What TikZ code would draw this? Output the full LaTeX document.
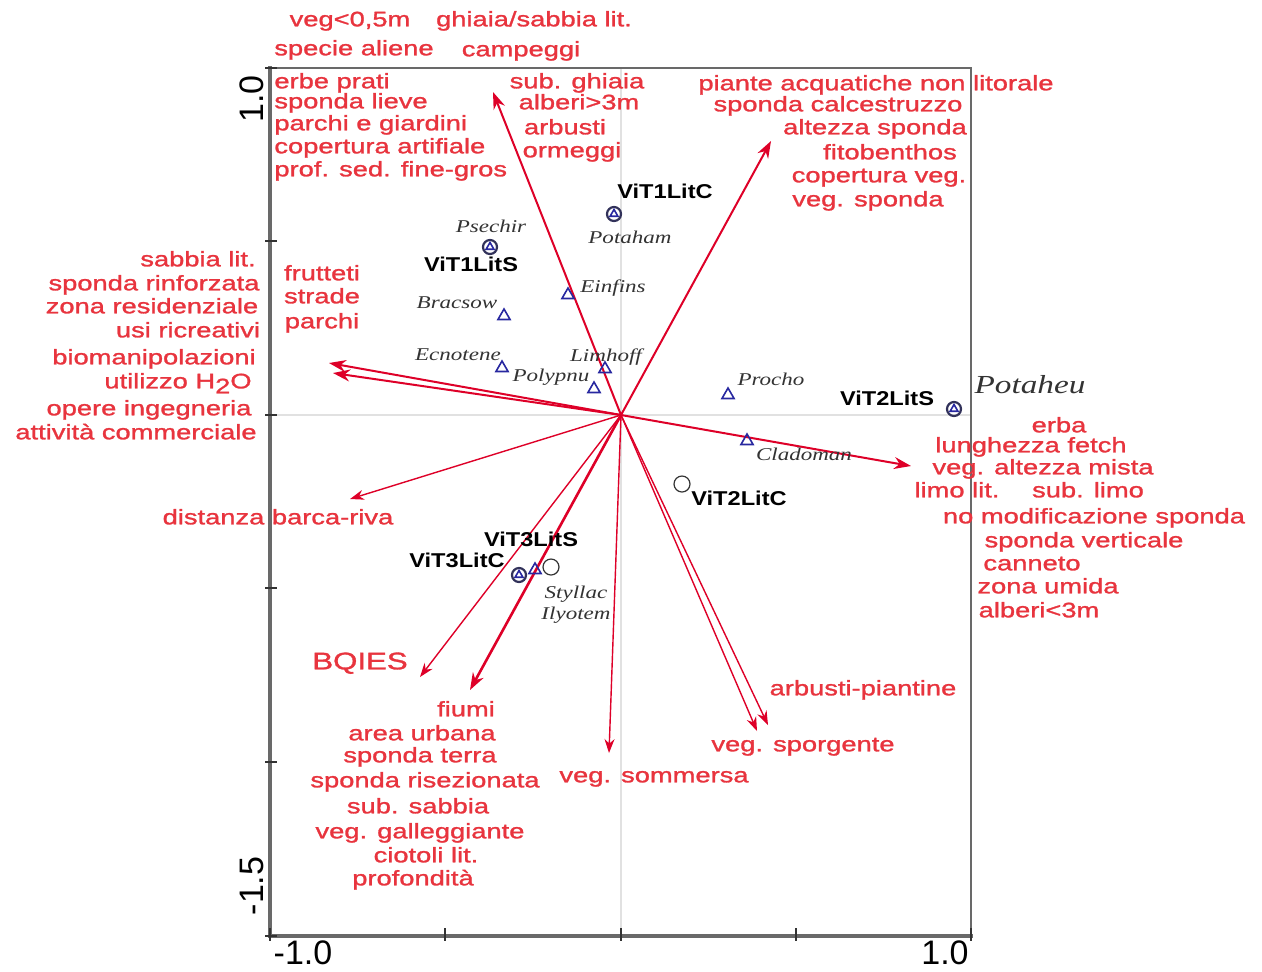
\documentclass[tikz,border=0pt]{standalone}
\usepackage{fontspec}
\usetikzlibrary{arrows.meta,shapes.geometric}
\newfontfamily\redfont[FakeStretch=1.30,FakeBold=1.3]{Liberation Sans}
\newfontfamily\sitefont[FakeStretch=1.18]{Liberation Sans}
\newfontfamily\spfont[FakeStretch=1.28]{Liberation Serif}
\newfontfamily\axfont{Liberation Sans}
\definecolor{labred}{RGB}{232,52,62}
\definecolor{arrred}{RGB}{222,0,40}
\definecolor{triblue}{RGB}{40,40,160}
\definecolor{axgray}{RGB}{105,105,105}
\definecolor{gridgray}{RGB}{225,225,225}
\definecolor{sitering}{RGB}{50,50,90}
\tikzset{
  lab/.style={text=labred, font=\redfont\fontsize{10.5}{12}\selectfont, inner sep=0pt, anchor=mid},
  bigl/.style={text=labred, font=\redfont\fontsize{12}{14}\selectfont, inner sep=0pt, anchor=mid},
  sitel/.style={text=black, font=\sitefont\bfseries\fontsize{10}{12}\selectfont, inner sep=0pt, anchor=mid},
  spl/.style={text=black!80, font=\spfont\itshape\fontsize{9}{11}\selectfont, inner sep=0pt, anchor=mid},
  axl/.style={text=black, font=\axfont\fontsize{17}{19}\selectfont, inner sep=0pt},
  arr/.style={draw=arrred, line width=1pt, -{Stealth[length=8.5pt,width=6pt]}},
  arrthin/.style={draw=arrred, line width=0.7pt, -{Stealth[length=7pt,width=5pt]}},
  tri/.style={draw=triblue, line width=0.8pt, regular polygon, regular polygon sides=3, minimum size=7pt, inner sep=0pt},
  sitec/.style={draw=sitering, line width=1.1pt, circle, minimum size=7pt, inner sep=0pt},
  openc/.style={draw=black!80, line width=0.6pt, circle, minimum size=8pt, inner sep=0pt},
  tick/.style={draw=black!80, line width=0.6pt}
}
\begin{document}
\begin{tikzpicture}[x=0.5pt,y=-0.5pt]
\useasboundingbox (0,0) rectangle (1262,971);
\fill[white] (0,0) rectangle (1262,971);
% grid lines
\draw[gridgray, line width=1pt] (621,68) -- (621,936);
\draw[gridgray, line width=1pt] (270,415) -- (971,415);
% frame
\draw[axgray, line width=1pt] (270,68) -- (971,68) -- (971,936);
\draw[axgray, line width=1.6pt] (270,66) -- (270,936) -- (973,936);
% ticks
\foreach \yy in {68,241,415,588,762,936} \draw[tick] (265,\yy) -- (277,\yy);
\foreach \xx in {270,445,621,796,971} \draw[tick] (\xx,928) -- (\xx,941);
% axis labels
\node[axl, rotate=90] (ylab1) at (252,99) {1.0};
\node[axl, rotate=90] (ylab2) at (252,886) {-1.5};
\node[axl] (xlab1) at (303,953) {-1.0};
\node[axl] (xlab2) at (945,953) {1.0};
% arrows
\coordinate (O) at (621,415);
\coordinate (t1) at (493,92);
\coordinate (t2) at (771,141);
\coordinate (t3) at (329,363);
\coordinate (t4) at (333,373);
\coordinate (t5) at (911,466);
\coordinate (t6) at (350,499);
\coordinate (t7) at (420,677);
\coordinate (t8) at (470,690);
\coordinate (t9) at (609,753);
\coordinate (t10) at (757,731);
\coordinate (t11) at (768,725);
\draw[arr] (O) -- (t1);
\draw[arr] (O) -- (t2);
\draw[arr] (O) -- (t3);
\draw[arr] (O) -- (t4);
\draw[arr] (O) -- (t5);
\draw[arrthin] (O) -- (t6);
\draw[arrthin] (O) -- (t7);
\draw[arr, line width=1.3pt] (O) -- (t8);
\draw[arrthin] (O) -- (t9);
\draw[arrthin] (O) -- (t10);
\draw[arrthin] (O) -- (t11);
% species triangles
\node[tri] (sEin) at (568,295) {};
\node[tri] (sBra) at (504,316) {};
\node[tri] (sEcn) at (502,368) {};
\node[tri] (sPol) at (594,389) {};
\node[tri] (sLim) at (605,369) {};
\node[tri] (sPro) at (728,395) {};
\node[tri] (sCla) at (747,441) {};
\node[tri] (sSty) at (535,570) {};
% sites with triangle inside
\node[sitec] (c1) at (614,214) {};
\node[tri, minimum size=4.5pt] (c1t) at (614,214) {};
\node[sitec] (c2) at (490,247) {};
\node[tri, minimum size=4.5pt] (c2t) at (490,247) {};
\node[sitec] (c3) at (954,409) {};
\node[tri, minimum size=4.5pt] (c3t) at (954,409) {};
\node[sitec] (c4) at (519,575) {};
\node[tri, minimum size=4.5pt] (c4t) at (519,575) {};
\node[openc] (c5) at (682,484) {};
\node[openc] (c6) at (551,567) {};
% site labels
\node[sitel] (nV1C) at (665,194) {ViT1LitC};
\node[sitel] (nV1S) at (471,267) {ViT1LitS};
\node[sitel] (nV2S) at (887,401) {ViT2LitS};
\node[sitel] (nV2C) at (739,501) {ViT2LitC};
\node[sitel] (nV3S) at (531,542) {ViT3LitS};
\node[sitel] (nV3C) at (457,563) {ViT3LitC};
% species labels
\node[spl] (lPse) at (491,228) {Psechir};
\node[spl] (lPot) at (630,239) {Potaham};
\node[spl] (lEin) at (613,288) {Einfins};
\node[spl] (lBra) at (457,304) {Bracsow};
\node[spl] (lEcn) at (458,356) {Ecnotene};
\node[spl] (lPol) at (551,377) {Polypnu};
\node[spl] (lLim) at (606,357) {Limhoff};
\node[spl] (lPro) at (771,381) {Procho};
\node[spl] (lCla) at (804,456) {Cladoman};
\node[spl] (lSty) at (576,594) {Styllac};
\node[spl] (lIly) at (576,615) {Ilyotem};
\node[spl, font=\spfont\itshape\fontsize{13}{15}\selectfont] (lPoh) at (1030,389) {Potaheu};
% top outside
\node[lab] (r1) at (350,22) {veg<0,5m};
\node[lab] (r2) at (354,51) {specie aliene};
\node[lab] (r3) at (534,22) {ghiaia/sabbia lit.};
\node[lab] (r4) at (521,52) {campeggi};
% top-left inside
\node[lab, anchor=mid west] (r5) at (274,84) {erbe prati};
\node[lab, anchor=mid west] (r6) at (274,104) {sponda lieve};
\node[lab, anchor=mid west] (r7) at (274,126) {parchi e giardini};
\node[lab, anchor=mid west] (r8) at (274,149) {copertura artifiale};
\node[lab, anchor=mid west] (r9) at (274,172) {prof. sed. fine-gros};
% top-middle
\node[lab] (r10) at (577,84) {sub. ghiaia};
\node[lab] (r11) at (579,105) {alberi>3m};
\node[lab] (r12) at (565,130) {arbusti};
\node[lab] (r13) at (572,153) {ormeggi};
% top-right
\node[lab] (r14) at (876,86) {piante acquatiche non litorale};
\node[lab] (r15) at (838,107) {sponda calcestruzzo};
\node[lab] (r16) at (875,130) {altezza sponda};
\node[lab] (r17) at (890,155) {fitobenthos};
\node[lab] (r18) at (879,178) {copertura veg.};
\node[lab] (r19) at (868,202) {veg. sponda};
% left
\node[lab] (r20) at (198,262) {sabbia lit.};
\node[lab] (r21) at (154,286) {sponda rinforzata};
\node[lab] (r22) at (152,309) {zona residenziale};
\node[lab] (r23) at (188,333) {usi ricreativi};
\node[lab] (r24) at (154,360) {biomanipolazioni};
\node[lab] (r25) at (178,384) {utilizzo H\raisebox{-0.45ex}{2}O};
\node[lab] (r26) at (149,411) {opere ingegneria};
\node[lab] (r27) at (136,435) {attività commerciale};
\node[lab] (r28) at (322,276) {frutteti};
\node[lab] (r29) at (322,299) {strade};
\node[lab] (r30) at (322,324) {parchi};
\node[lab] (r31) at (278,520) {distanza barca-riva};
\node[bigl] (r32) at (360,665) {BQIES};
% bottom
\node[lab] (r33) at (466,712) {fiumi};
\node[lab] (r34) at (422,736) {area urbana};
\node[lab] (r35) at (420,758) {sponda terra};
\node[lab] (r36) at (425,783) {sponda risezionata};
\node[lab] (r37) at (418,809) {sub. sabbia};
\node[lab] (r38) at (420,834) {veg. galleggiante};
\node[lab] (r39) at (426,858) {ciotoli lit.};
\node[lab] (r40) at (413,881) {profondità};
\node[lab] (r41) at (654,778) {veg. sommersa};
\node[lab] (r42) at (803,747) {veg. sporgente};
\node[lab] (r43) at (863,691) {arbusti-piantine};
% right
\node[lab] (r44) at (1059,428) {erba};
\node[lab] (r45) at (1031,448) {lunghezza fetch};
\node[lab] (r46) at (1043,470) {veg. altezza mista};
\node[lab] (r47) at (957,493) {limo lit.};
\node[lab] (r48) at (1088,493) {sub. limo};
\node[lab] (r49) at (1094,519) {no modificazione sponda};
\node[lab] (r50) at (1084,543) {sponda verticale};
\node[lab] (r51) at (1032,566) {canneto};
\node[lab] (r52) at (1048,589) {zona umida};
\node[lab] (r53) at (1039,613) {alberi<3m};
\end{tikzpicture}
\end{document}
